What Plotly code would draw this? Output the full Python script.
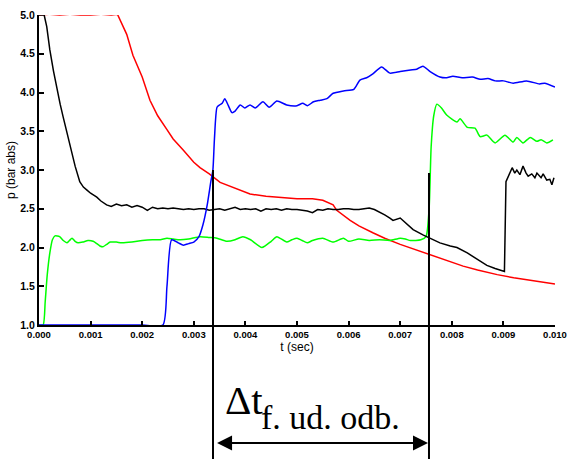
import plotly.graph_objects as go

# ---------------- data ----------------
red_t = [0, 0.0002, 0.0004, 0.0006, 0.0008, 0.001, 0.0012, 0.0014, 0.00152, 0.0016, 0.0017,
         0.00182, 0.002, 0.00215, 0.0023, 0.00248, 0.0026, 0.00279, 0.003, 0.00312, 0.0033,
         0.00351, 0.0038, 0.00409, 0.0044, 0.00473, 0.005, 0.0053, 0.0055, 0.0057, 0.00577,
         0.00603, 0.0062, 0.00647, 0.0067, 0.007, 0.0073, 0.00758, 0.008, 0.00822, 0.0085,
         0.00888, 0.0092, 0.00952, 0.0098, 0.01]
red_p = [5.0, 5.01, 5.0, 5.01, 5.0, 5.0, 5.01, 5.0, 5.01, 4.9, 4.75,
         4.48, 4.2, 3.9, 3.7, 3.52, 3.4, 3.26, 3.1, 3.03, 2.95,
         2.84, 2.76, 2.69, 2.66, 2.64, 2.63, 2.63, 2.61, 2.55, 2.48,
         2.35, 2.28, 2.19, 2.12, 2.04, 1.97, 1.9, 1.81, 1.76, 1.71,
         1.65, 1.61, 1.58, 1.55, 1.53]

black_t = [0, 0.0001, 0.00015, 0.00021, 0.00028, 0.00035, 0.00041, 0.00047, 0.00055, 0.00063,
           0.0007, 0.00079, 0.00086, 0.00093, 0.001, 0.00112, 0.0012, 0.00131, 0.0014, 0.0015,
           0.0016, 0.0017, 0.0018, 0.0019, 0.002, 0.0021, 0.0022, 0.0023, 0.0024, 0.0025,
           0.0026, 0.0027, 0.0028, 0.0029, 0.003, 0.0031, 0.0032, 0.0033, 0.0034, 0.0035,
           0.0036, 0.0037, 0.0038, 0.0039, 0.004, 0.0041, 0.0042, 0.0043, 0.0044, 0.0045,
           0.0046, 0.0047, 0.0048, 0.0049, 0.005, 0.0051, 0.0052, 0.0053, 0.0054, 0.0055,
           0.0056, 0.0057, 0.0058, 0.0059, 0.006, 0.0061, 0.0062, 0.0063, 0.0064, 0.0065,
           0.0066, 0.0067, 0.0068, 0.00686, 0.007, 0.0071, 0.00725, 0.00745, 0.00758, 0.00777,
           0.00797, 0.0081, 0.0083, 0.00849, 0.00868, 0.00884, 0.00899, 0.00902, 0.00905, 0.00911,
           0.00917, 0.00922, 0.00926, 0.00932, 0.00938, 0.00944, 0.00948, 0.00955, 0.00961, 0.00965,
           0.00973, 0.00977, 0.00984, 0.0099, 0.00994, 0.00998]
black_p = [5.0, 5.0, 4.85, 4.55, 4.28, 4.03, 3.85, 3.68, 3.45, 3.26,
           3.05, 2.85, 2.78, 2.74, 2.7, 2.65, 2.6, 2.55, 2.53, 2.56,
           2.54, 2.55, 2.52, 2.54, 2.52, 2.48, 2.52, 2.5, 2.51, 2.5,
           2.51, 2.5, 2.49, 2.5, 2.49, 2.5, 2.5, 2.48, 2.49, 2.5,
           2.48, 2.5, 2.52, 2.49, 2.5, 2.49, 2.5, 2.47, 2.5, 2.49,
           2.5, 2.48, 2.5, 2.49, 2.49, 2.48, 2.47, 2.45, 2.49, 2.48,
           2.5, 2.49, 2.49, 2.5, 2.5, 2.49, 2.49, 2.5, 2.51, 2.49,
           2.46, 2.42, 2.38, 2.35, 2.38, 2.32, 2.23, 2.16, 2.12, 2.06,
           2.02, 2.0, 1.93, 1.85, 1.77, 1.73, 1.7, 1.69, 2.85, 2.94,
           3.03, 2.96, 3.0, 2.94, 3.05, 2.96, 2.92, 2.95, 2.9, 2.96,
           2.9, 2.95, 2.87, 2.88, 2.81, 2.9]

green_t = [0, 0.00008, 0.00012, 0.00016, 0.00021, 0.00026, 0.00031, 0.0004, 0.00047, 0.00054,
           0.00059, 0.00064, 0.0007, 0.00076, 0.00085, 0.00095, 0.00105, 0.00112, 0.00118, 0.00124,
           0.00131, 0.00138, 0.0015, 0.0016, 0.0018, 0.002, 0.0022, 0.00235, 0.00248, 0.0026,
           0.00273, 0.0029, 0.00312, 0.0033, 0.00345, 0.00364, 0.0038, 0.00395, 0.0041, 0.00432,
           0.0045, 0.00461, 0.0048, 0.0049, 0.005, 0.0051, 0.0052, 0.0053, 0.0055, 0.0057,
           0.0059, 0.006, 0.0062, 0.0064, 0.0066, 0.0068, 0.007, 0.0071, 0.0072, 0.0074,
           0.0075, 0.00756, 0.0076, 0.00765, 0.00771, 0.0078, 0.0079, 0.0081, 0.00816, 0.0083,
           0.00845, 0.00855, 0.00868, 0.00884, 0.00903, 0.00919, 0.00926, 0.00938, 0.00952, 0.00965,
           0.00973, 0.00984, 0.00996]
green_p = [1.0, 1.0, 1.3, 1.65, 1.93, 2.1, 2.15, 2.14, 2.09, 2.06,
           2.09, 2.12, 2.08, 2.06, 2.07, 2.09, 2.08, 2.05, 2.02, 2.01,
           2.04, 2.07, 2.07, 2.06, 2.07, 2.09, 2.1, 2.1, 2.12, 2.11,
           2.1, 2.11, 2.14, 2.13, 2.12, 2.08, 2.1, 2.14, 2.1, 2.0,
           2.08, 2.14, 2.07, 2.1, 2.12, 2.09, 2.06, 2.09, 2.12, 2.07,
           2.12, 2.08, 2.11, 2.09, 2.1, 2.09, 2.12, 2.11, 2.09, 2.1,
           2.14, 2.5, 3.3, 3.7, 3.85, 3.8, 3.71, 3.62, 3.66, 3.55,
           3.54, 3.43, 3.45, 3.35, 3.45, 3.36, 3.42, 3.35, 3.42, 3.37,
           3.39, 3.35, 3.39]

blue_t = [0, 0.0005, 0.001, 0.0015, 0.002, 0.0024, 0.00248, 0.00257, 0.0027, 0.0028,
          0.0029, 0.003, 0.0031, 0.00318, 0.00326, 0.00333, 0.00337, 0.0034, 0.00345, 0.0035,
          0.00355, 0.0036, 0.00367, 0.00374, 0.0038, 0.0039, 0.00399, 0.00409, 0.00419, 0.00434,
          0.00446, 0.00461, 0.0048, 0.005, 0.00511, 0.0052, 0.00532, 0.00545, 0.00558, 0.0057,
          0.0059, 0.0061, 0.00622, 0.00635, 0.00647, 0.00664, 0.0068, 0.007, 0.0072, 0.00732,
          0.00744, 0.00758, 0.00777, 0.0079, 0.00802, 0.0082, 0.0084, 0.00855, 0.0087, 0.00884,
          0.009, 0.00919, 0.00945, 0.0097, 0.0098, 0.01]
blue_p = [1.0, 1.0, 1.0, 1.0, 1.0, 1.0, 1.5, 2.1, 2.06, 2.03,
          2.05, 2.07, 2.14, 2.3, 2.55, 2.85, 3.0, 3.4, 3.81, 3.84,
          3.86, 3.92, 3.83, 3.74, 3.76, 3.84, 3.8, 3.84, 3.8, 3.88,
          3.81, 3.89, 3.84, 3.83, 3.86, 3.83, 3.88, 3.9, 3.92, 3.99,
          4.02, 4.04, 4.16, 4.19, 4.24, 4.33, 4.25, 4.27, 4.29, 4.3,
          4.34, 4.27, 4.2, 4.19, 4.21, 4.19, 4.2, 4.17, 4.18, 4.15,
          4.15, 4.12, 4.15, 4.11, 4.12, 4.07]

x_ticks = [0.000, 0.001, 0.002, 0.003, 0.004, 0.005, 0.006, 0.007, 0.008, 0.009, 0.010]
y_ticks = [1.0, 1.5, 2.0, 2.5, 3.0, 3.5, 4.0, 4.5, 5.0]

# marker lines (t position, top pressure)
mark_left_t, mark_left_p = 0.003372, 3.0
mark_right_t, mark_right_p = 0.007558, 2.96
delta_label = "Δt"
delta_sub = "f. ud. odb."

# ---------------- figure ----------------
fig = go.Figure()
for t, p, c, shape in [(red_t, red_p, "#ff0000", "linear"), (green_t, green_p, "#00ff00", "spline"),
                       (black_t, black_p, "#000000", "linear"), (blue_t, blue_p, "#0000ff", "spline")]:
    line = dict(color=c, width=1.5, shape=shape)
    if shape == "spline":
        line["smoothing"] = 0.6
    fig.add_trace(go.Scatter(x=t, y=p, mode="lines", line=line,
                             showlegend=False, hoverinfo="skip"))

Y0, Y1 = 1.0, 5.0
def ypaper(v):
    return (v - Y0) / (Y1 - Y0)

bottom_paper = -0.44
arrow_paper = -0.381

fig.add_shape(type="line", xref="x", yref="paper", x0=mark_left_t, x1=mark_left_t,
              y0=bottom_paper, y1=ypaper(mark_left_p), line=dict(color="black", width=2))
fig.add_shape(type="line", xref="x", yref="paper", x0=mark_right_t, x1=mark_right_t,
              y0=bottom_paper, y1=ypaper(mark_right_p), line=dict(color="black", width=2))

fig.add_annotation(x=mark_right_t, y=arrow_paper, xref="x", yref="paper",
                   ax=mark_left_t + 0.00005, ay=0, axref="x", ayref="pixel",
                   text="", showarrow=True, arrowside="end+start",
                   arrowhead=2, startarrowhead=2, arrowsize=1.5, startarrowsize=1.5,
                   arrowwidth=2, arrowcolor="black", standoff=1, startstandoff=0)

fig.add_annotation(x=0.357, y=-0.322, xref="paper", yref="paper", xanchor="left", yanchor="bottom",
                   text=delta_label, showarrow=False,
                   font=dict(family="Liberation Serif, Times New Roman, serif", size=41, color="black"))
fig.add_annotation(x=0.427, y=-0.363, xref="paper", yref="paper", xanchor="left", yanchor="bottom",
                   text=delta_sub, showarrow=False,
                   font=dict(family="Liberation Serif, Times New Roman, serif", size=34, color="black"))

xtickfont = dict(family="Liberation Sans, Arial, sans-serif", size=9.5, color="black", weight="bold")
ytickfont = dict(family="Liberation Sans, Arial, sans-serif", size=10.5, color="black", weight="bold")
titlefont = dict(family="Liberation Sans, Arial, sans-serif", size=12, color="black")
fig.update_layout(
    width=567, height=459,
    margin=dict(l=39, r=12, t=15, b=134),
    paper_bgcolor="white", plot_bgcolor="white",
    xaxis=dict(range=[0, 0.010], tickvals=x_ticks, ticktext=[f"{v:.3f}" for v in x_ticks],
               showgrid=False, zeroline=False, showline=True, linecolor="black", linewidth=2,
               ticks="inside", ticklen=4, tickwidth=1.5, tickcolor="black", tickfont=xtickfont,
               automargin=False, ticklabeloverflow="allow",
               title=dict(text="t (sec)", standoff=2, font=titlefont)),
    yaxis=dict(range=[Y0, Y1], tickvals=y_ticks, ticktext=[f"{v:.1f}" for v in y_ticks],
               showgrid=False, zeroline=False, showline=True, linecolor="black", linewidth=2,
               ticks="inside", ticklen=5, tickwidth=1.5, tickcolor="black", tickfont=ytickfont,
               automargin=False, ticklabeloverflow="allow",
               title=dict(text="p (bar abs)", standoff=2, font=titlefont)),
)

# remove the page's default 8px body margin so the figure fills the window exactly
fig.write_html("out.html",
               config={"displayModeBar": False},
               post_script="document.body.style.margin='0';document.body.style.overflow='hidden';")
